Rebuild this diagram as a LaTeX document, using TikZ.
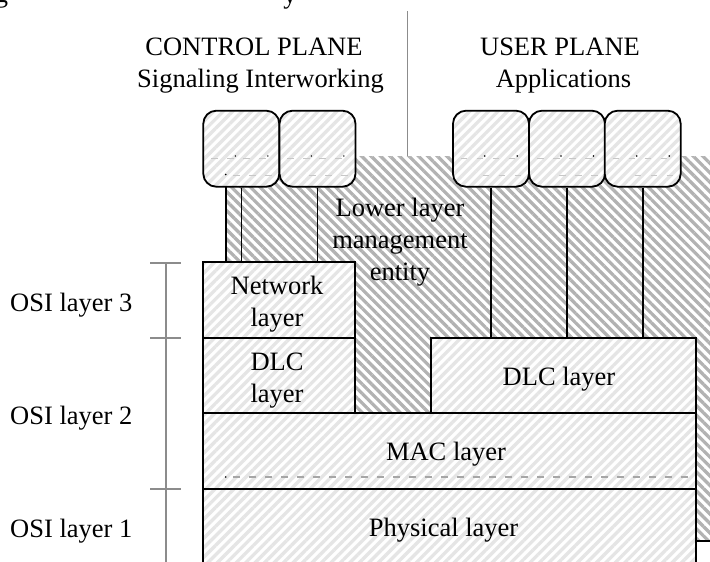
\documentclass[tikz,border=0pt]{standalone}
\usepackage{fontspec}
\setmainfont{Liberation Serif}
\usetikzlibrary{patterns.meta}
\begin{document}
\begin{tikzpicture}[x=1pt,y=1pt,
  txt/.style={font=\fontsize{26.5}{32}\selectfont, align=center, inner sep=0pt},
  lite/.style={preaction={fill=white},
    pattern={Lines[angle=45,distance=6.7pt,line width=3.3pt]}, pattern color=black!10},
  darkhatch/.style={pattern={Lines[angle=-45,distance=6.7pt,line width=3.3pt]}, pattern color=black!30},
  layerbox/.style={draw=black, line width=1.8pt, lite, inner sep=0pt},
  appbox/.style={layerbox, rounded corners=13pt, minimum width=76pt, minimum height=76pt},
  wire/.style={black, line width=1.6pt},
  guide/.style={draw=black!45, line width=1.7pt},
  faint/.style={draw=black!22, line width=1.1pt, dash pattern=on 6.5pt off 9.5pt},
  speck/.style={fill=black, inner sep=0pt, minimum size=1.8pt, circle}
]
\useasboundingbox (0,0) rectangle (710,-562);

% descenders of the caption line above
\node[txt, anchor=base] (capg) at (1.5,-2) {g};
\node[txt, anchor=base] (capy) at (290,-3) {y};

% plane headings and divider
\node[txt, anchor=base] (cp)  at (254,-55) {CONTROL PLANE};
\node[txt, anchor=base] (siw) at (260.5,-87) {Signaling Interworking};
\node[txt, anchor=base] (up)  at (560,-55) {USER PLANE};
\node[txt, anchor=base] (apl) at (563.5,-87) {Applications};
\coordinate (divtop) at (407.5,-11);
\coordinate (divbot) at (407.5,-156);
\draw[guide, line width=1.5pt] (divtop) -- (divbot);

% lower layer management entity (hatched region)
\fill[darkhatch] (226,-156) -- (226,-262.3) -- (355,-262.3) -- (355,-413.3)
  -- (431,-413.3) -- (431,-338.3) -- (695.7,-338.3) -- (695.7,-540.7)
  -- (715,-540.7) -- (715,-156) -- cycle;
\draw[wire, line width=1.8pt] (226,-156) -- (226,-262.3);
\draw[wire, line width=1.8pt] (695.7,-540.7) -- (715,-540.7);

% protocol layers
\node[layerbox, minimum width=151.7pt, minimum height=76pt] (net)  at (279.15,-300.3) {};
\node[layerbox, minimum width=151.7pt, minimum height=75pt] (dlcl) at (279.15,-375.8) {};
\node[layerbox, minimum width=264.7pt, minimum height=75pt] (dlcr) at (563.35,-375.8) {};
\node[layerbox, minimum width=492.4pt, minimum height=76pt] (mac)  at (449.5,-451.3) {};
\node[layerbox, minimum width=492.4pt, minimum height=90pt] (phy)  at (449.5,-534.3) {};

% faint rule inside the MAC layer
\draw[faint, draw=black!35] (233,-477) -- (690,-477);
\node[speck] (macdot) at (225.7,-477) {};

% signaling and application entities
\node[appbox] (c1) at (241.3,-148.7) {};
\node[appbox] (c2) at (317.5,-148.7) {};
\node[appbox] (u1) at (491,-148.7) {};
\node[appbox] (u2) at (567,-148.7) {};
\node[appbox] (u3) at (642.7,-148.7) {};

% faint rules and specks inside the entities
\foreach \b/\x in {c1/203.3,c2/279.3,u1/452.7,u2/529,u3/604.7}{
  \draw[faint] (\x+8,-158.5) -- (\x+72,-158.5);
  \draw[faint] (\x+30,-175.5) -- (\x+72,-175.5);
  \node[speck, minimum size=1.6pt] (\b d1) at (\x+32,-156) {};
  \node[speck, minimum size=1.6pt] (\b d2) at (\x+64.5,-156) {};
}
\node[speck, minimum size=1.6pt] (c1d3) at (225.7,-174.5) {};

% connectors down to the layers
\draw[wire] (c1.south) -- (c1.south |- net.north);
\draw[wire] (c2.south) -- (c2.south |- net.north);
\draw[wire] (u1.south) -- (u1.south |- dlcr.north);
\draw[wire] (u2.south) -- (u2.south |- dlcr.north);
\draw[wire] (u3.south) -- (u3.south |- dlcr.north);

% layer names
\node[txt] (llme) at (400,-242.3) {Lower layer\\management\\entity};
\node[txt] (netT) at (277,-303.8) {Network\\layer};
\node[txt] (dlclT) at (277,-380.1) {DLC\\layer};
\node[txt, anchor=base] (dlcrT) at (559,-385) {DLC layer};
\node[txt, anchor=base] (macT) at (446,-460) {MAC layer};
\node[txt, anchor=base] (phyT) at (443.6,-536.7) {Physical layer};

% OSI layer scale
\coordinate (ositop) at (166,-262.7);
\coordinate (osibot) at (166,-570);
\draw[guide] (ositop) -- (osibot);
\foreach \y/\n in {262.7/t3,338.3/t2,489.3/t1}{
  \coordinate (\n a) at (150,-\y);
  \coordinate (\n b) at (181,-\y);
  \draw[guide] (\n a) -- (\n b);
}
\node[txt, anchor=base west] (osi3) at (10,-311) {OSI layer 3};
\node[txt, anchor=base west] (osi2) at (10,-424) {OSI layer 2};
\node[txt, anchor=base west] (osi1) at (10,-537) {OSI layer 1};
\end{tikzpicture}
\end{document}
